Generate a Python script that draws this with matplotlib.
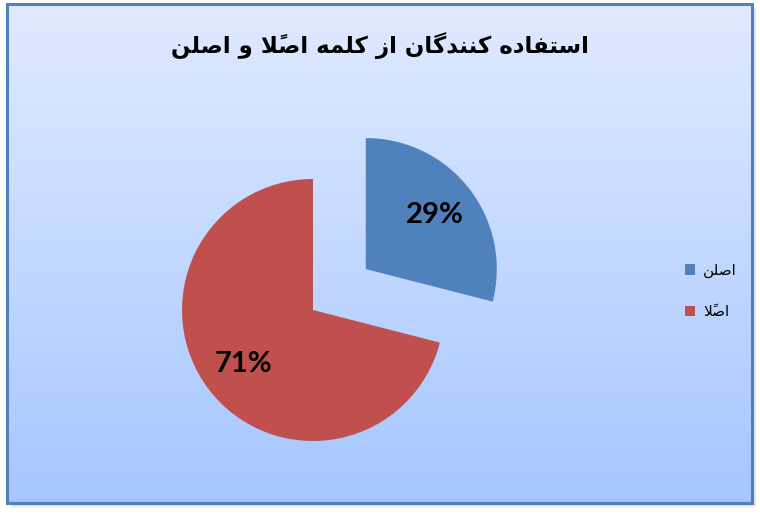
import matplotlib
matplotlib.use('Agg')
import matplotlib.pyplot as plt
import numpy as np
from matplotlib.patches import Rectangle

title = 'استفاده کنندگان از کلمه اصلاً و اصلن'
labels = ['اصلن', 'اصلاً']
values = [29, 71]
colors = ['#4F81BD', '#C0504D']

# matplotlib has no arabic shaping, so pick presentation forms by hand
# forms: isolated, final, initial, medial
DUAL = {
    'ت': '\uFE95\uFE96\uFE97\uFE98',
    'س': '\uFEB1\uFEB2\uFEB3\uFEB4',
    'ص': '\uFEB9\uFEBA\uFEBB\uFEBC',
    'ف': '\uFED1\uFED2\uFED3\uFED4',
    'ل': '\uFEDD\uFEDE\uFEDF\uFEE0',
    'م': '\uFEE1\uFEE2\uFEE3\uFEE4',
    'ن': '\uFEE5\uFEE6\uFEE7\uFEE8',
    'ه': '\uFEE9\uFEEA\uFEEB\uFEEC',
    'ک': '\uFB8E\uFB8F\uFB90\uFB91',
    'گ': '\uFB92\uFB93\uFB94\uFB95',
}
RIGHT = {
    'ا': '\uFE8D\uFE8E',
    'د': '\uFEA9\uFEAA',
    'ز': '\uFEAF\uFEB0',
    'و': '\uFEED\uFEEE',
    'LA': '\uFEFB\uFEFC',
}
MARKS = {'\u064B'}


def shape(text):
    # split into clusters: [base, marks]
    clusters = []
    i = 0
    while i < len(text):
        c = text[i]
        if c in MARKS and clusters:
            clusters[-1][1] += c
        elif c == 'ل' and i + 1 < len(text) and text[i + 1] == 'ا':
            clusters.append(['LA', ''])
            i += 1
        else:
            clusters.append([c, ''])
        i += 1
    out = []
    for k, (c, m) in enumerate(clusters):
        prev = clusters[k - 1][0] if k > 0 else None
        nxt = clusters[k + 1][0] if k + 1 < len(clusters) else None
        jp = prev in DUAL
        jn = c in DUAL and (nxt in DUAL or nxt in RIGHT)
        if c in DUAL:
            g = DUAL[c][3 if jp and jn else 1 if jp else 2 if jn else 0]
        elif c in RIGHT:
            g = RIGHT[c][1 if jp else 0]
        else:
            g = c
        out.append(g + m)
    return ''.join(out[::-1])


fig = plt.figure(figsize=(7.6, 5.15), dpi=100)

bg = fig.add_axes([0, 0, 1, 1])
bg.axis('off')
for k, a in [(5, 0.05), (4, 0.08), (3, 0.12), (2, 0.15)]:
    bg.add_patch(Rectangle((7 + k, 4 + k), 745, 499, facecolor='#808080',
                           edgecolor='none', alpha=a, zorder=0))
top = np.array([224, 234, 255]) / 255
bot = np.array([166, 198, 255]) / 255
t = np.linspace(0, 1, 256)[:, None, None]
grad = top + (bot - top) * t
bg.imshow(grad, extent=(7, 752, 503, 4), aspect='auto', zorder=1)
bg.add_patch(Rectangle((7, 4), 745, 499, fill=False, edgecolor='#4F81BD',
                       lw=2.2, zorder=2))
bg.set_xlim(0, 760)
bg.set_ylim(515, 0)

ax = fig.add_axes([0, 0, 1, 1])
ax.patch.set_alpha(0)
wedges, texts, autotexts = ax.pie(
    values, explode=[0.51, 0], colors=colors, startangle=90,
    counterclock=False, autopct='%1.0f%%', pctdistance=0.67,
    textprops={'fontsize': 21, 'fontweight': 'bold', 'family': 'Lato',
               'color': 'black'})
ax.set_aspect('auto')
ax.set_xlim(-313 / 131, 447 / 131)
ax.set_ylim(-205 / 131, 310 / 131)
ax.axis('off')

fig.text(380 / 760, 1 - 46 / 515, shape(title), ha='center', va='center',
         fontsize=16.5, fontweight='bold', family='DejaVu Sans')

fig.legend(wedges, [shape(s) for s in labels], loc='center left',
           bbox_to_anchor=(677 / 760, 1 - 291 / 515), frameon=False,
           handlelength=0.7, handleheight=0.7,
           handletextpad=0.5, labelspacing=1.75, borderpad=0,
           prop={'family': 'DejaVu Sans', 'size': 11})

fig.savefig('out.png', dpi=100)
